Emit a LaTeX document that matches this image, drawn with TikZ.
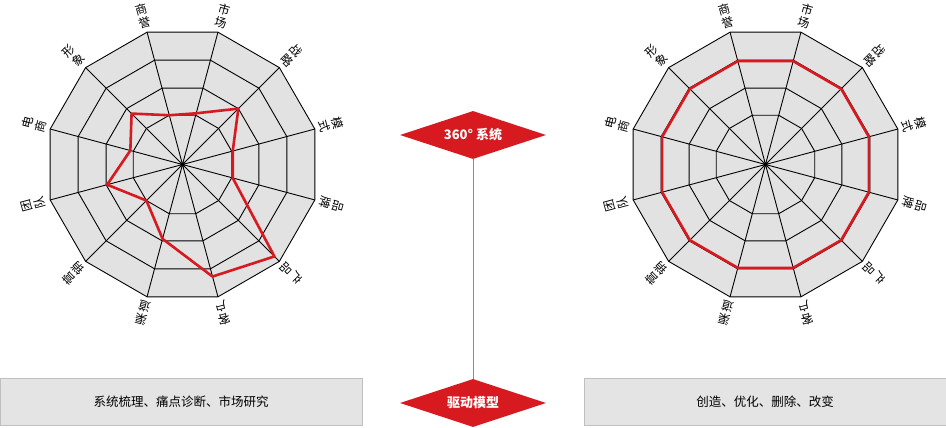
\documentclass[tikz,border=0pt]{standalone}
\usepackage{fontspec}
\setmainfont{Noto Sans CJK SC}
\usetikzlibrary{shapes.geometric,calc}
\definecolor{webred}{HTML}{D71920}
\definecolor{chartfill}{HTML}{E2E2E2}
\definecolor{boxfill}{HTML}{E4E4E4}
\tikzset{
  gridline/.style={black, line width=0.9pt, line join=round},
  redline/.style={webred, line width=2.6pt, line join=round},
  lbl/.style={font=\fontsize{12}{13.5}\selectfont, inner sep=0pt, align=center},
  redmark/.style={diamond, fill=webred, text=white, minimum width=146pt, minimum height=48pt, inner sep=0pt, aspect=3, font=\bfseries\fontsize{13}{13}\selectfont},
  infobox/.style={fill=boxfill, draw=black!25, line width=0.8pt, minimum width=362pt, minimum height=47pt, inner sep=0pt, font=\fontsize{12.5}{13}\selectfont}
}
\newcommand{\radarbase}[1]{%
  \fill[chartfill] (#1) ++(105:137) \foreach \a in {75,45,...,-225}{ -- ($(#1)+(\a:137)$)} -- cycle;
  \foreach \r in {137,108,79,51}{
    \draw[gridline] ($(#1)+(105:\r)$) \foreach \a in {75,45,...,-225}{ -- ($(#1)+(\a:\r)$)} -- cycle;
  }
  \foreach \a in {15,45,...,345}{\draw[gridline] (#1) -- ($(#1)+(\a:137)$);}
  \fill (#1) circle (2.2pt);
  \foreach \a/\t/\u in {105/商/誉,75/市/场,45/战/略,15/模/式,-15/品/牌,-45/产/品,-75/客/户,-105/渠/道,-135/营/销,-165/团/队,165/电/商,135/形/象}{
    \node[lbl, rotate=\a-90] at ($(#1)+(\a:154)$) {\t\\\u};
  }
}
\begin{document}
\begin{tikzpicture}[x=1pt,y=1pt]
\useasboundingbox (0,0) rectangle (946,428);
\coordinate (L) at (182.5,263.5);
\coordinate (R) at (765.5,263.5);
\radarbase{L}
\radarbase{R}
\draw[redline] ($(L)+(105:51)$) -- ($(L)+(75:53)$) -- ($(L)+(45:79)$) -- ($(L)+(15:52)$) -- ($(L)+(-15:52)$) -- ($(L)+(-45:130)$) -- ($(L)+(-75:116)$) -- ($(L)+(-105:77)$) -- ($(L)+(-135:51)$) -- ($(L)+(-165:78)$) -- ($(L)+(165:54)$) -- ($(L)+(135:72)$) -- cycle;
\draw[redline] ($(R)+(105:107)$) \foreach \a in {75,45,...,-225}{ -- ($(R)+(\a:107)$)} -- cycle;
\node[redmark] (d1) at (473,293) {360° 系统};
\node[redmark] (d2) at (473,25) {驱动模型};
\draw[black!45, line width=0.7pt] (d1.south) -- (d2.north);
\node[infobox] (b1) at (181,26.5) {系统梳理、痛点诊断、市场研究};
\node[infobox] (b2) at (765,26.5) {创造、优化、删除、改变};
\end{tikzpicture}
\end{document}
